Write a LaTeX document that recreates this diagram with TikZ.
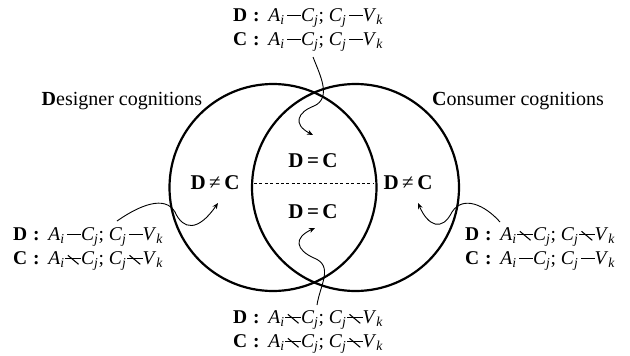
\documentclass[tikz,border=0pt]{standalone}
\usepackage{fontspec}
\setmainfont{Liberation Serif}
\usetikzlibrary{arrows.meta, positioning}

% indexed italic letter, plain link and broken link
\newcommand{\ix}[2]{\textit{#1}\textsubscript{\textit{#2}}}
\newcommand{\lk}{\hspace{0.14em}\rule[0.26em]{0.7em}{0.055em}}
\newcommand{\nlk}{\hspace{0.04em}\rlap{\rule[0.26em]{0.8em}{0.055em}}%
  \makebox[0.8em][c]{\raisebox{0.21em}{\rotatebox[origin=c]{-40}{\rule{0.72em}{0.055em}}}}}
\newcommand{\who}[1]{\textbf{#1}\hspace{0.3em}\textbf{:}\hspace{0.45em}}

\begin{document}
\begin{tikzpicture}[x=1pt, y=-1pt, >={Stealth[length=6pt, width=5pt]},
  note/.style={font=\fontsize{19.5}{24}\selectfont, align=left, inner sep=0pt},
  title/.style={font=\fontsize{20}{24}\selectfont, inner sep=0pt},
  eq/.style={font=\fontsize{21}{25}\selectfont\bfseries, inner sep=0pt},
  ring/.style={line width=2.2pt},
  pointer/.style={->, line width=0.9pt}]

\useasboundingbox (0,0) rectangle (630,356);

% Circles
\draw[ring] (273,187.5) circle (103.5pt);
\draw[ring] (355.5,187.5) circle (103.5pt);

% Split of the overlap
\draw[line width=0.9pt, dash pattern=on 3pt off 2.4pt] (254,183) -- (374,183);

% Titles
\node[title] (desg) at (122,101) {\textbf{D}esigner cognitions};
\node[title] (cons) at (518,101) {\textbf{C}onsumer cognitions};

% Region labels
\node[eq] (neqL) at (215,183) {D\,\textmd{≠}\,C};
\node[eq] (neqR) at (408,183) {D\,\textmd{≠}\,C};
\node[eq] (eqUp) at (313,161) {D\,=\,C};
\node[eq] (eqDn) at (313,212) {D\,=\,C};

% Notes
\node[note, anchor=west] (noteUp) at (233,30)
  {\who{D}\ix{A}{i}\lk\ix{C}{j}; \ix{C}{j}\lk\ix{V}{k}\\
   \who{C}\ix{A}{i}\lk\ix{C}{j}; \ix{C}{j}\lk\ix{V}{k}};
\node[note, anchor=west] (noteL) at (13,249)
  {\who{D}\ix{A}{i}\lk\ix{C}{j}; \ix{C}{j}\lk\ix{V}{k}\\
   \who{C}\ix{A}{i}\nlk\ix{C}{j}; \ix{C}{j}\nlk\ix{V}{k}};
\node[note, anchor=west] (noteR) at (465,249)
  {\who{D}\ix{A}{i}\nlk\ix{C}{j}; \ix{C}{j}\nlk\ix{V}{k}\\
   \who{C}\ix{A}{i}\lk\ix{C}{j}; \ix{C}{j}\lk\ix{V}{k}};
\node[note, anchor=west] (noteDn) at (233,332)
  {\who{D}\ix{A}{i}\nlk\ix{C}{j}; \ix{C}{j}\nlk\ix{V}{k}\\
   \who{C}\ix{A}{i}\nlk\ix{C}{j}; \ix{C}{j}\nlk\ix{V}{k}};

% Pointer ends
\coordinate (fromUp) at (313,57);
\coordinate (toUp) at (313,135);
\coordinate (fromDn) at (317,305);
\coordinate (toDn) at (315,228);
\coordinate (fromL) at (117,221);
\coordinate (toL) at (218,203);
\coordinate (fromR) at (500,222);
\coordinate (toR) at (418,203);

% Pointers
\draw[pointer] (fromUp) .. controls (320,75) and (332,98) .. (314,106)
  .. controls (298,112) and (292,124) .. (toUp);
\draw[pointer] (fromDn) .. controls (320,285) and (334,266) .. (314,258)
  .. controls (296,250) and (293,238) .. (toDn);
\draw[pointer] (fromL) .. controls (140,205) and (165,195) .. (175,212)
  .. controls (183,230) and (198,232) .. (toL);
\draw[pointer] (fromR) .. controls (485,205) and (463,195) .. (452,212)
  .. controls (442,232) and (428,226) .. (toR);

\end{tikzpicture}
\end{document}
